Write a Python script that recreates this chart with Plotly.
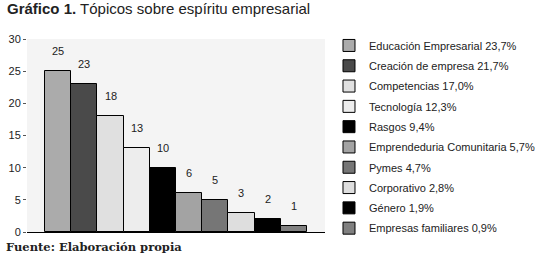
import plotly.graph_objects as go

categories = ["Educación Empresarial 23,7%", "Creación de empresa 21,7%", "Competencias 17,0%",
              "Tecnología 12,3%", "Rasgos 9,4%", "Emprendeduria Comunitaria 5,7%", "Pymes 4,7%",
              "Corporativo 2,8%", "Género 1,9%", "Empresas familiares 0,9%"]
values = [25, 23, 18, 13, 10, 6, 5, 3, 2, 1]
colors = ["#ababab", "#4a4a4a", "#e0e0e0", "#ededed", "#000000",
          "#a3a3a3", "#767676", "#dedede", "#000000", "#808080"]
yticks = [0, 5, 10, 15, 20, 25, 30]

fig = go.Figure()
for i, (c, v, col) in enumerate(zip(categories, values, colors)):
    fig.add_trace(go.Bar(x=[i], y=[v], width=1, name=c, legendgroup=c,
                         marker=dict(color=col, line=dict(color="#000000", width=1))))
    fig.add_annotation(x=i, y=v, text=str(v), showarrow=False, yshift=20,
                       font=dict(size=11, color="#222222"))

fig.update_layout(
    width=542, height=258,
    margin=dict(l=27, r=217, t=39, b=26, autoexpand=False),
    paper_bgcolor="white", plot_bgcolor="#f4f4f4",
    barmode="overlay", bargap=0,
    font=dict(family="Liberation Sans, Arial, sans-serif", size=11, color="#222222"),
    showlegend=True,
    legend=dict(xref="container", yref="container", x=0.607, y=0.88, xanchor="left", yanchor="top",
                font=dict(size=11, color="#222222"), tracegroupgap=1.3, itemwidth=30,
                bgcolor="rgba(0,0,0,0)", maxheight=250),
)
fig.update_xaxes(range=[-1.19, 10.19], showticklabels=False, ticks="", showgrid=False,
                 zeroline=False, showline=True, linecolor="#000000", linewidth=1, automargin=False)
fig.update_yaxes(range=[0, 30], tickvals=yticks, ticks="outside", ticklen=3, tickcolor="#555555",
                 showgrid=False, zeroline=False, showline=False, tickfont=dict(size=11),
                 automargin=False)

fig.add_annotation(xref="paper", yref="paper", x=-22/298, y=1 + 31/193, xanchor="left", yanchor="middle",
                   text="<b>Gráfico 1.</b> Tópicos sobre espíritu empresarial", showarrow=False,
                   font=dict(size=15, color="#222222"))
fig.add_annotation(xref="paper", yref="paper", x=-23/298, y=-15/193, xanchor="left", yanchor="middle",
                   text="<b>Fuente: Elaboración propia</b>", showarrow=False,
                   font=dict(size=11.5, family="DejaVu Serif, serif", color="#222222"))

fig.write_html("out.html", config={"displayModeBar": False},
               post_script="document.body.style.margin='0';document.body.style.overflow='hidden';")
